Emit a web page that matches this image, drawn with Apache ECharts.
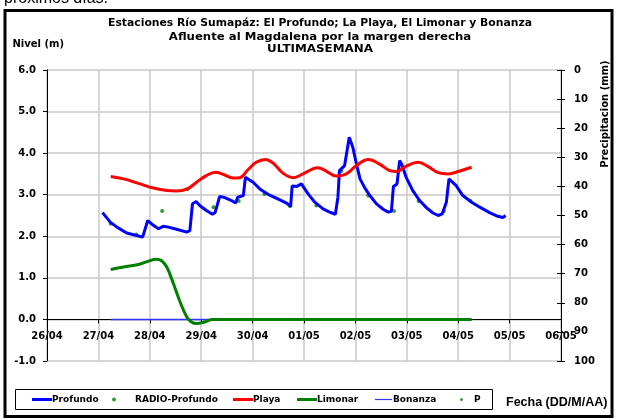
<!DOCTYPE html>
<html>
<head>
<meta charset="utf-8">
<script src="https://cdn.jsdelivr.net/npm/echarts@6/dist/echarts.min.js"></script>
<style>
  html, body { margin: 0; padding: 0; background: #fff; }
  #myChart { width: 617px; height: 420px; }
</style>
</head>
<body>
<div id="myChart"></div>
<script>
// etiquetas del eje X (dias desde 26/04)
const dayLabels = ['26/04', '27/04', '28/04', '29/04', '30/04', '01/05', '02/05', '03/05', '04/05', '05/05', '06/05']

// Profundo: [dia, nivel]
const profundo = [
  [1.08, 2.57], [1.23, 2.34], [1.36, 2.22], [1.55, 2.08], [1.74, 2.02], [1.86, 1.98], [1.89, 2.02],
  [1.96, 2.38], [2.04, 2.29], [2.17, 2.18], [2.26, 2.24], [2.36, 2.22], [2.52, 2.17], [2.72, 2.10],
  [2.78, 2.14], [2.83, 2.78], [2.90, 2.84], [2.97, 2.74], [3.10, 2.62], [3.22, 2.53], [3.27, 2.57],
  [3.36, 2.96], [3.46, 2.93], [3.59, 2.86], [3.67, 2.80], [3.71, 2.94], [3.82, 2.98], [3.86, 3.42],
  [3.91, 3.38], [4.01, 3.30], [4.14, 3.14], [4.30, 3.01], [4.46, 2.92], [4.66, 2.80], [4.74, 2.72],
  [4.77, 3.21], [4.86, 3.20], [4.95, 3.26], [5.08, 3.02], [5.21, 2.82], [5.37, 2.66], [5.50, 2.58],
  [5.61, 2.53], [5.66, 2.94], [5.69, 3.58], [5.79, 3.70], [5.88, 4.38], [5.95, 4.14], [6.02, 3.74],
  [6.09, 3.38], [6.18, 3.17], [6.28, 2.98], [6.41, 2.78], [6.54, 2.65], [6.64, 2.58], [6.70, 2.60],
  [6.74, 3.20], [6.81, 3.26], [6.86, 3.82], [6.90, 3.74], [6.99, 3.41], [7.12, 3.09], [7.25, 2.86],
  [7.38, 2.69], [7.51, 2.56], [7.61, 2.50], [7.69, 2.54], [7.77, 2.82], [7.82, 3.38], [7.96, 3.22],
  [8.09, 2.98], [8.26, 2.82], [8.42, 2.70], [8.61, 2.57], [8.77, 2.48], [8.87, 2.45], [8.92, 2.50]
]

// RADIO-Profundo
const radioProfundo = [
  [1.24, 2.30], [1.74, 2.04], [2.24, 2.61], [2.73, 3.13], [3.24, 2.70], [3.73, 2.85], [4.23, 3.02],
  [4.73, 2.72], [5.24, 2.74], [5.73, 3.57], [6.25, 2.98], [6.75, 2.61], [7.23, 2.85], [7.72, 2.60],
  [8.24, 2.85]
]

// La Playa
const playa = [
  [1.24, 3.44], [1.49, 3.38], [1.81, 3.26], [2.07, 3.16], [2.33, 3.10], [2.52, 3.09], [2.73, 3.14],
  [2.91, 3.30], [3.10, 3.46], [3.28, 3.54], [3.43, 3.49], [3.62, 3.40], [3.75, 3.41], [3.91, 3.60],
  [4.07, 3.78], [4.25, 3.85], [4.40, 3.76], [4.59, 3.52], [4.79, 3.41], [4.98, 3.50], [5.17, 3.62],
  [5.27, 3.65], [5.43, 3.57], [5.63, 3.45], [5.76, 3.47], [5.87, 3.54], [6.02, 3.70], [6.25, 3.85],
  [6.48, 3.73], [6.67, 3.58], [6.80, 3.56], [6.99, 3.69], [7.22, 3.78], [7.41, 3.68], [7.61, 3.53],
  [7.80, 3.50], [8.03, 3.57], [8.26, 3.66]
]

// El Limonar
const limonar = [
  [1.24, 1.20], [1.49, 1.26], [1.78, 1.32], [1.97, 1.40], [2.12, 1.45], [2.23, 1.41], [2.33, 1.26],
  [2.46, 0.86], [2.59, 0.42], [2.72, 0.06], [2.81, -0.06], [2.91, -0.10], [3.07, -0.06], [3.23, 0.0],
  [4.0, 0.0], [5.0, 0.0], [6.0, 0.0], [7.0, 0.0], [8.26, 0.0]
]

// Bonanza
const bonanza = [[1.24, 0.0], [3.0, 0.0], [5.0, 0.0], [7.25, 0.0]]

// P (precipitacion, mm)
const precip = []

const font = '"DejaVu Sans", Verdana, sans-serif'
const lbl = { color: '#000', fontFamily: font, fontWeight: 'bold', fontSize: 10 }

// un legend por serie, para poder colocarlos como en el original
function legendItem(name, left, icon, w, h, textPad) {
  return {
    data: [{ name: name, icon: icon }],
    left: left,
    top: 395,
    padding: 0,
    itemWidth: w,
    itemHeight: h,
    selectedMode: false,
    textStyle: { color: '#000', fontFamily: font, fontWeight: 'bold', fontSize: 9, padding: [0, 0, 0, textPad] },
  }
}

function titleLine(text, y, sx) {
  return {
    type: 'text', x: 320, y: y, scaleX: sx,
    style: { text: text, fill: '#000', font: 'bold 10px ' + font, align: 'center', verticalAlign: 'middle' },
  }
}

let myChart = echarts.init(document.getElementById('myChart'))
myChart.setOption({
  animation: false,
  backgroundColor: '#fff',
  legend: [
    legendItem('Profundo', 32, 'rect', 20, 3, -5),
    legendItem('RADIO-Profundo', 112, 'circle', 4, 4, 14),
    legendItem('Playa', 233, 'rect', 20, 3, -5),
    legendItem('Limonar', 297, 'rect', 20, 3, -5),
    legendItem('Bonanza', 375, 'rect', 17, 1.2, -4),
    legendItem('P', 460, 'circle', 3, 3, 6),
  ],
  graphic: [
    { type: 'text', left: 4, top: -9, style: { text: 'próximos días.', font: '16px "Liberation Sans", Arial, sans-serif', fill: '#000' } },
    { type: 'rect', shape: { x: 5, y: 10.5, width: 607, height: 406 }, style: { fill: 'none', stroke: '#000', lineWidth: 3 }, z: 10 },
    titleLine('Estaciones Río Sumapáz: El Profundo; La Playa, El Limonar y Bonanza', 23.5, 1.08),
    titleLine('Afluente al Magdalena por la margen derecha', 37, 1.17),
    titleLine('ULTIMASEMANA', 49.5, 1.19),
    { type: 'text', x: 12.5, y: 44.5, style: { text: 'Nivel (m)', fill: '#000', font: 'bold 10px ' + font, verticalAlign: 'middle' } },
    { type: 'text', x: 605, y: 114, rotation: Math.PI / 2, style: { text: 'Precipitacion (mm)', fill: '#000', font: 'bold 10px ' + font, align: 'center', verticalAlign: 'middle' } },
    { type: 'rect', shape: { x: 15.5, y: 389.5, width: 477, height: 20 }, style: { fill: 'none', stroke: '#000', lineWidth: 1 } },
    { type: 'text', x: 506, y: 403, style: { text: 'Fecha (DD/M/AA)', fill: '#000', font: 'bold 12.5px "Liberation Sans", Arial, sans-serif', verticalAlign: 'middle' } },
  ],
  grid: { left: 47, right: 56, top: 70, bottom: 59, containLabel: false },
  xAxis: {
    type: 'value',
    min: 0,
    max: 10,
    interval: 1,
    // el eje de fechas va sobre el nivel 0 (1 de 7 unidades por encima del borde inferior)
    offset: -41.6,
    axisLine: { onZero: false, lineStyle: { color: '#000', width: 1 } },
    axisTick: { show: true, length: 4, lineStyle: { color: '#000' } },
    axisLabel: Object.assign({}, lbl, { margin: 12, formatter: (v) => dayLabels[v] }),
    splitLine: { show: true, lineStyle: { color: '#c8c8c8', width: 1.5 } },
  },
  yAxis: [
    {
      type: 'value',
      min: -1,
      max: 6,
      interval: 1,
      position: 'left',
      axisLine: { show: true, onZero: false, lineStyle: { color: '#000' } },
      axisTick: { show: true, length: 4, lineStyle: { color: '#000' } },
      axisLabel: Object.assign({}, lbl, { margin: 11, formatter: (v) => v.toFixed(1) }),
      splitLine: { show: true, lineStyle: { color: '#c8c8c8', width: 1.5 } },
    },
    {
      type: 'value',
      min: 0,
      max: 100,
      interval: 10,
      inverse: true,
      position: 'right',
      axisLine: { show: true, onZero: false, lineStyle: { color: '#000' } },
      axisTick: { show: true, length: 4, lineStyle: { color: '#000' } },
      axisLabel: Object.assign({}, lbl, { margin: 13 }),
      splitLine: { show: false },
    },
    {
      // solo para las marcas hacia adentro del eje derecho
      type: 'value',
      min: 0,
      max: 100,
      interval: 10,
      inverse: true,
      position: 'right',
      axisLine: { show: false, onZero: false },
      axisTick: { show: true, inside: true, length: 4, lineStyle: { color: '#000' } },
      axisLabel: { show: false },
      splitLine: { show: false },
    },
  ],
  series: [
    {
      name: 'Bonanza', type: 'line', data: bonanza, showSymbol: false,
      lineStyle: { color: '#3333ff', width: 1.5 }, itemStyle: { color: '#3333ff' },
    },
    {
      name: 'Limonar', type: 'line', data: limonar, showSymbol: false, smooth: 0.4,
      lineStyle: { color: '#008000', width: 3 }, itemStyle: { color: '#008000' },
    },
    {
      name: 'Profundo', type: 'line', data: profundo, showSymbol: false,
      lineStyle: { color: '#0000ff', width: 3 }, itemStyle: { color: '#0000ff' },
    },
    {
      name: 'Playa', type: 'line', data: playa, showSymbol: false, smooth: 0.4,
      lineStyle: { color: '#ff0000', width: 3 }, itemStyle: { color: '#ff0000' },
    },
    {
      name: 'RADIO-Profundo', type: 'scatter', data: radioProfundo, symbolSize: 4,
      itemStyle: { color: '#008000' },
    },
    {
      name: 'P', type: 'scatter', yAxisIndex: 1, data: precip, symbolSize: 3,
      itemStyle: { color: '#008000' },
    },
  ],
})
</script>
</body>
</html>
